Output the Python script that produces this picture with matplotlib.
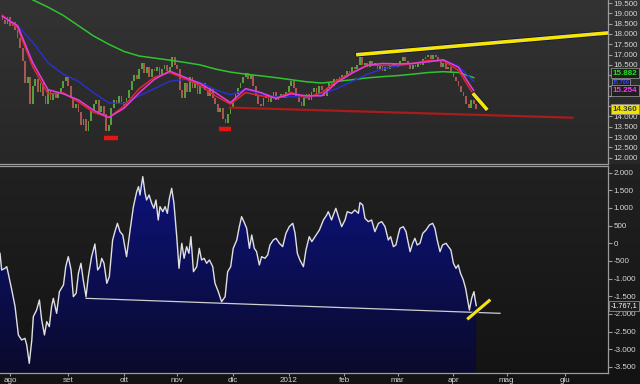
import matplotlib
matplotlib.use("Agg")
import matplotlib.pyplot as plt
import matplotlib.patheffects as pe
from matplotlib.colors import LinearSegmentedColormap
from matplotlib.patches import PathPatch
from matplotlib.transforms import blended_transform_factory
import numpy as np
import pandas as pd

# trading days on the x axis (prices stop on 13 apr 2012)
days = pd.bdate_range("2011-07-27", "2012-06-29")
month_labels = ["ago", "set", "ott", "nov", "dic", "2012", "feb", "mar", "apr", "mag", "giu"]

# daily closes
first_open = 18.9
closes = [
    18.7, 18.5, 18.8, 18.4, 18.6, 18.2, 17.8, 17.3, 16.7, 15.6,
    15.9, 14.6, 15.5, 15.8, 15.2, 15.6, 15.0, 14.6, 15.3, 14.8,
    15.1, 14.9, 15.2, 15.4, 15.7, 15.9, 15.5, 14.9, 14.4, 14.6,
    14.2, 13.6, 13.9, 13.3, 13.8, 14.3, 14.6, 14.8, 14.2, 14.5,
    14.1, 13.3, 13.6, 14.4, 14.8, 14.6, 15.0, 14.7, 14.5, 14.9,
    15.3, 15.7, 16.0, 15.8, 16.3, 16.6, 16.1, 16.4, 15.9, 16.3,
    16.2, 16.4, 16.0, 16.3, 16.5, 16.2, 16.4, 16.9, 16.5, 16.3,
    15.3, 14.9, 15.6, 15.2, 15.9, 15.4, 15.7, 15.1, 15.5, 15.6,
    15.3, 15.0, 15.4, 14.9, 14.6, 14.2, 14.4, 13.9, 13.7, 14.1,
    14.4, 14.8, 15.1, 15.4, 15.6, 15.9, 16.1, 15.8, 16.0, 15.5,
    15.0, 14.6, 14.5, 14.9, 15.1, 14.7, 15.0, 15.2, 14.8, 15.0,
    15.1, 14.9, 15.2, 15.5, 15.7, 15.4, 15.0, 14.7, 14.5, 14.9,
    15.1, 14.8, 15.2, 15.4, 15.1, 15.5, 15.3, 15.0, 15.4, 15.6,
    15.5, 15.8, 15.7, 15.9, 16.0, 15.9, 16.2, 16.1, 16.4, 16.3,
    16.5, 16.9, 16.5, 16.6, 16.4, 16.7, 16.5, 16.6, 16.3, 16.5,
    16.2, 16.4, 16.3, 16.5, 16.6, 16.4, 16.5, 16.7, 16.9, 16.7,
    16.5, 16.3, 16.5, 16.4, 16.6, 16.5, 16.8, 16.9, 17.0, 16.8,
    17.0, 16.9, 16.7, 16.4, 16.6, 16.3, 16.4, 16.1, 15.9, 15.7,
    15.5, 15.2, 15.0, 14.6, 14.4, 14.8, 14.6, 14.36,
]

# moving averages, read every 6 trading days
ma_step = 6
ma_red = [18.9, 18.3, 16.4, 15.1, 15.15, 14.7, 14.2, 13.95, 14.5, 15.35, 15.9, 16.13,
          15.84, 15.5, 15.0, 14.6, 15.16, 15.0, 14.9, 15.16, 14.9, 15.16, 15.74, 16.13,
          16.48, 16.48, 16.48, 16.57, 16.72, 16.7, 16.23, 15.05]
ma_magenta = [18.85, 18.4, 16.6, 15.3, 15.1, 14.8, 14.3, 13.95, 14.4, 15.15, 15.8, 16.2,
              15.9, 15.6, 15.16, 14.67, 15.35, 15.16, 14.87, 15.1, 15.0, 15.0, 15.65, 16.1,
              16.48, 16.57, 16.55, 16.57, 16.65, 16.75, 16.38, 15.254]
ma_blue = [18.9, 18.4, 17.6, 16.6, 16.05, 15.7, 15.15, 14.66, 14.62, 15.0, 15.35, 15.7,
           15.8, 15.65, 15.3, 15.05, 15.3, 15.1, 14.95, 14.95, 14.95, 15.1, 15.35, 15.7,
           16.05, 16.3, 16.45, 16.55, 16.65, 16.72, 16.45, 15.7]
ma_green = [20.6, 20.1, 19.65, 19.3, 18.9, 18.4, 17.9, 17.5, 17.15, 16.93, 16.83, 16.73,
            16.62, 16.5, 16.3, 16.15, 16.05, 15.97, 15.88, 15.78, 15.68, 15.62, 15.7, 15.78,
            15.87, 15.93, 15.98, 16.05, 16.13, 16.17, 16.13, 15.882]

# hand drawn lines on the price panel (trading-day index, price)
support_x = [89.8, 225.0]
support_y = [14.43, 13.94]
resist_x = [140.3, 239.0]
resist_y = [17.0, 18.05]
arrow_x = [186.1, 190.9]
arrow_y = [15.06, 14.38]
low_marks = [(40.1, 45.6, 12.96), (85.5, 90.2, 13.4)]

# oscillator (trading-day index, value)
osc_pos = [
    -0.95, -0.3, 1.0, 1.7, 2.3, 3.7, 5.0, 6.3, 7.6, 8.9,
    9.6, 10.6, 11.6, 12.2, 13.5, 14.6, 15.5, 16.6, 17.5, 18.5,
    19.4, 20.1, 21.4, 22.5, 24.1, 25.0, 26.0, 27.1, 28.0, 29.1,
    30.0, 31.0, 31.9, 33.0, 33.9, 35.2, 36.5, 37.6, 38.5, 39.2,
    40.1, 41.2, 42.2, 43.5, 44.4, 45.4, 46.4, 47.5, 49.0, 50.4,
    51.7, 53.0, 53.7, 54.3, 55.4, 56.3, 56.9, 57.9, 58.9, 59.8,
    60.6, 61.5, 62.2, 63.3, 64.2, 65.1, 65.9, 66.8, 67.7, 68.8,
    69.7, 70.8, 71.7, 72.7, 73.6, 74.4, 75.4, 76.7, 77.7, 78.6,
    79.6, 80.6, 81.7, 83.0, 83.9, 85.2, 86.5, 87.9, 88.9, 90.1,
    91.1, 92.5, 93.5, 94.4, 95.3, 96.4, 97.5, 98.4, 99.4, 100.3,
    101.4, 102.3, 103.6, 104.7, 105.6, 106.9, 108.0, 109.3, 110.6, 111.9,
    113.2, 114.6, 115.5, 116.4, 117.4, 118.8, 119.8, 121.1, 122.1, 123.4, 125.1,
    126.7, 128.0, 128.6, 129.9, 130.6, 131.6, 132.6, 133.9, 135.2, 136.1,
    137.8, 139.1, 140.5, 141.1, 142.2, 143.1, 144.4, 145.7, 147.0, 148.4,
    149.7, 151.0, 152.3, 153.2, 154.3, 155.3, 156.2, 156.9, 158.2, 159.3,
    159.8, 160.9, 161.9, 162.8, 163.7, 164.8, 165.9, 167.2, 168.5, 169.8,
    170.7, 171.6, 172.7, 173.7, 175.1, 176.0, 177.0, 178.0, 179.0, 179.9,
    180.8, 181.9, 182.8, 183.5, 184.3, 185.2, 186.1, 186.6, 187.0,
]
osc_val = [
    -284, -757, -709, -662, -851, -1323, -1795, -2598, -2740, -2692,
    -2881, -3400, -2740, -2078, -1890, -1606, -2173, -2598, -2220, -2362,
    -1795, -1559, -1984, -1370, -1181, -662, -379, -757, -1512, -1417,
    -851, -567, -1040, -1512, -945, -379, -20, -757, -662, -426,
    -567, -1134, -945, 93, 330, 566, 330, 235, -379, 377,
    1038, 1463, 1604, 1368, 1888, 1416, 1227, 1368, 1132, 991,
    1227, 660, 1038, 896, 1038, 849, 1274, 1557, 1132, 188,
    -709, 0, -426, -95, -284, 188, -804, -662, -143, -473,
    -426, -567, -473, -662, -1134, -1370, -1653, -1512, -804, -662,
    -143, 93, 471, 755, 613, 424, -143, 235, -143, -237,
    -615, -379, -426, -331, -48, 93, 141, 0, -95, 282,
    471, 566, 282, -284, -473, -662, -190, 188, 46, 188, 377,
    660, 802, 896, 660, 802, 991, 755, 471, 660, 896,
    849, 943, 849, 1151, 1085, 707, 613, 660, 330, 566,
    613, 471, 93, 188, -95, -48, 235, 424, 471, 330,
    141, -237, 0, 141, -48, 0, 282, 377, 518, 566,
    424, 93, -237, -48, 0, -95, -190, -568, -709, -615,
    -851, -1040, -1276, -1559, -1890, -1559, -1370, -1606, -1767.1,
]
osc_trend_x = [33.0, 196.4]
osc_trend_y = [-1559, -1984]
osc_arrow_x = [183.9, 192.1]
osc_arrow_y = [-2125, -1625]

plt.rcParams["font.family"] = ["Liberation Sans", "DejaVu Sans"]
W, H = 640, 384
XLIM = (-0.95, 239.0)
TICK = "#d6d6d6"
SPINE = "#9c9c9c"

fig = plt.figure(figsize=(W / 100, H / 100), dpi=100)

# dark background, lighter in the price panel
bg = fig.add_axes([0, 0, 1, 1], zorder=-10)
shade = np.concatenate([np.linspace(0x33, 0x27, 164), np.linspace(0x21, 0x13, 220)]) / 255
bg.imshow(np.repeat(shade[:, None, None], 3, axis=2), aspect="auto", extent=[0, 1, 0, 1])
bg.axis("off")

ax1 = fig.add_axes([0, 1 - 164 / H, 608 / W, 164 / H])
ax2 = fig.add_axes([0, 1 - 373 / H, 608 / W, 207 / H])
for ax in (ax1, ax2):
    ax.set_facecolor("none")
    ax.spines["left"].set_visible(False)
    for s in ("right", "top", "bottom"):
        ax.spines[s].set_color(SPINE)
        ax.spines[s].set_linewidth(0.9)
    ax.yaxis.tick_right()
    ax.tick_params(axis="y", colors=SPINE, labelcolor=TICK, length=3, width=0.8,
                   pad=1, labelsize=5.8)
ax1.spines["top"].set_visible(False)

# ---- price panel ----
x = np.arange(len(closes))
c = np.array(closes)
o = np.r_[first_open, c[:-1]]
cols = np.where(c >= o, "#55a03c", "#a9574f")
ax1.bar(x, c - o, bottom=o, width=0.7, color=cols, linewidth=0, zorder=2)

ma_x = np.arange(len(ma_red)) * ma_step
ax1.plot(ma_x, ma_green, color="#2fc42f", lw=1.1, zorder=3)
ax1.plot(ma_x, ma_blue, color="#2a30d8", lw=1.0, zorder=3)
ax1.plot(ma_x, ma_red, color="#e22828", lw=1.1, zorder=3)
ax1.plot(ma_x, ma_magenta, color="#e43ce4", lw=1.1, zorder=3)

ax1.plot(support_x, support_y, color="#a81c1c", lw=1.6, zorder=3)
for x0, x1, yv in low_marks:
    ax1.plot([x0, x1], [yv, yv], color="#e81414", lw=3.2, solid_capstyle="butt", zorder=4)

yellow_fx = [pe.Stroke(linewidth=3.8, foreground="#14144a"), pe.Normal()]
ax1.plot(resist_x, resist_y, color="#f5e60a", lw=2.6, path_effects=yellow_fx, zorder=5)
ax1.plot(arrow_x, arrow_y, color="#f5e60a", lw=2.6, path_effects=yellow_fx, zorder=5)

ax1.set_xlim(*XLIM)
ax1.set_ylim(11.695, 19.646)
ax1.set_xticks([])
yt = np.arange(12.0, 19.51, 0.5)
ax1.set_yticks(yt)
# the value tags cover the 14.5-16.0 tick labels in the original
ax1.set_yticklabels(["" if 14.4 < v < 16.1 else f"{v:.3f}" for v in yt])

tr1 = blended_transform_factory(ax1.transAxes, ax1.transData)


def tag(ax, tr, y, text, tc, fc="#1e1e1e", size=5.8, weight="bold", xpos=1.008, pad=0.2):
    ax.text(xpos, y, text, transform=tr, ha="left", va="center", fontsize=size,
            color=tc, fontweight=weight, clip_on=False, zorder=10,
            bbox=dict(boxstyle=f"square,pad={pad}", fc=fc, ec="#8c8c8c", lw=0.6))


tag(ax1, tr1, 15.66, f"{ma_blue[-1]:.3f}", "#3a44ff", size=4.0, pad=0.1)
tag(ax1, tr1, ma_magenta[-1], f"{ma_magenta[-1]:.3f}", "#ff33ff")
tag(ax1, tr1, 16.09, f"{ma_green[-1]:.3f}", "#22e022")
tag(ax1, tr1, closes[-1], f"{closes[-1]:.3f}", "#3a3a3a", fc="#f2e200")

# ---- oscillator panel ----
Y2 = (-3675, 2190)
ox = np.array(osc_pos)
oy = np.array(osc_val)
poly = ax2.fill_between(ox, oy, Y2[0], facecolor="none", edgecolor="none")
clip = PathPatch(poly.get_paths()[0], transform=ax2.transData, fc="none", ec="none")
ax2.add_patch(clip)
navy = LinearSegmentedColormap.from_list("navy", ["#0a0a2c", "#0d1380"])
img = ax2.imshow(np.linspace(0, 1, 256)[:, None], cmap=navy, origin="lower",
                 extent=[XLIM[0], XLIM[1], Y2[0], Y2[1]], aspect="auto", zorder=1)
img.set_clip_path(clip)
ax2.plot(ox, oy, color="#e0e0e0", lw=1.0, zorder=3)
ax2.plot(osc_trend_x, osc_trend_y, color="#cfcfcf", lw=0.9, zorder=3)
ax2.plot(osc_arrow_x, osc_arrow_y, color="#f5e60a", lw=2.2,
         path_effects=[pe.Stroke(linewidth=3.2, foreground="#14144a"), pe.Normal()], zorder=5)

ax2.set_xlim(*XLIM)
ax2.set_ylim(*Y2)
yt2 = np.arange(-3500, 2001, 500)
ax2.set_yticks(yt2)
ax2.set_yticklabels([f"{int(v):,}".replace(",", ".") for v in yt2])

month_pos = [i for i in range(1, len(days)) if days[i].month != days[i - 1].month]
ax2.set_xticks(month_pos)
ax2.set_xticklabels(month_labels)
ax2.tick_params(axis="x", colors=SPINE, labelcolor=TICK, length=2, width=0.8,
                pad=1, labelsize=5.8)

tr2 = blended_transform_factory(ax2.transAxes, ax2.transData)
last = f"{osc_val[-1]:,.1f}".replace(",", "X").replace(".", ",").replace("X", ".")
tag(ax2, tr2, osc_val[-1], last, "#ffffff", size=5.2, weight="normal", xpos=1.004)

fig.savefig("out.png", dpi=100, facecolor="#1c1c1c")
